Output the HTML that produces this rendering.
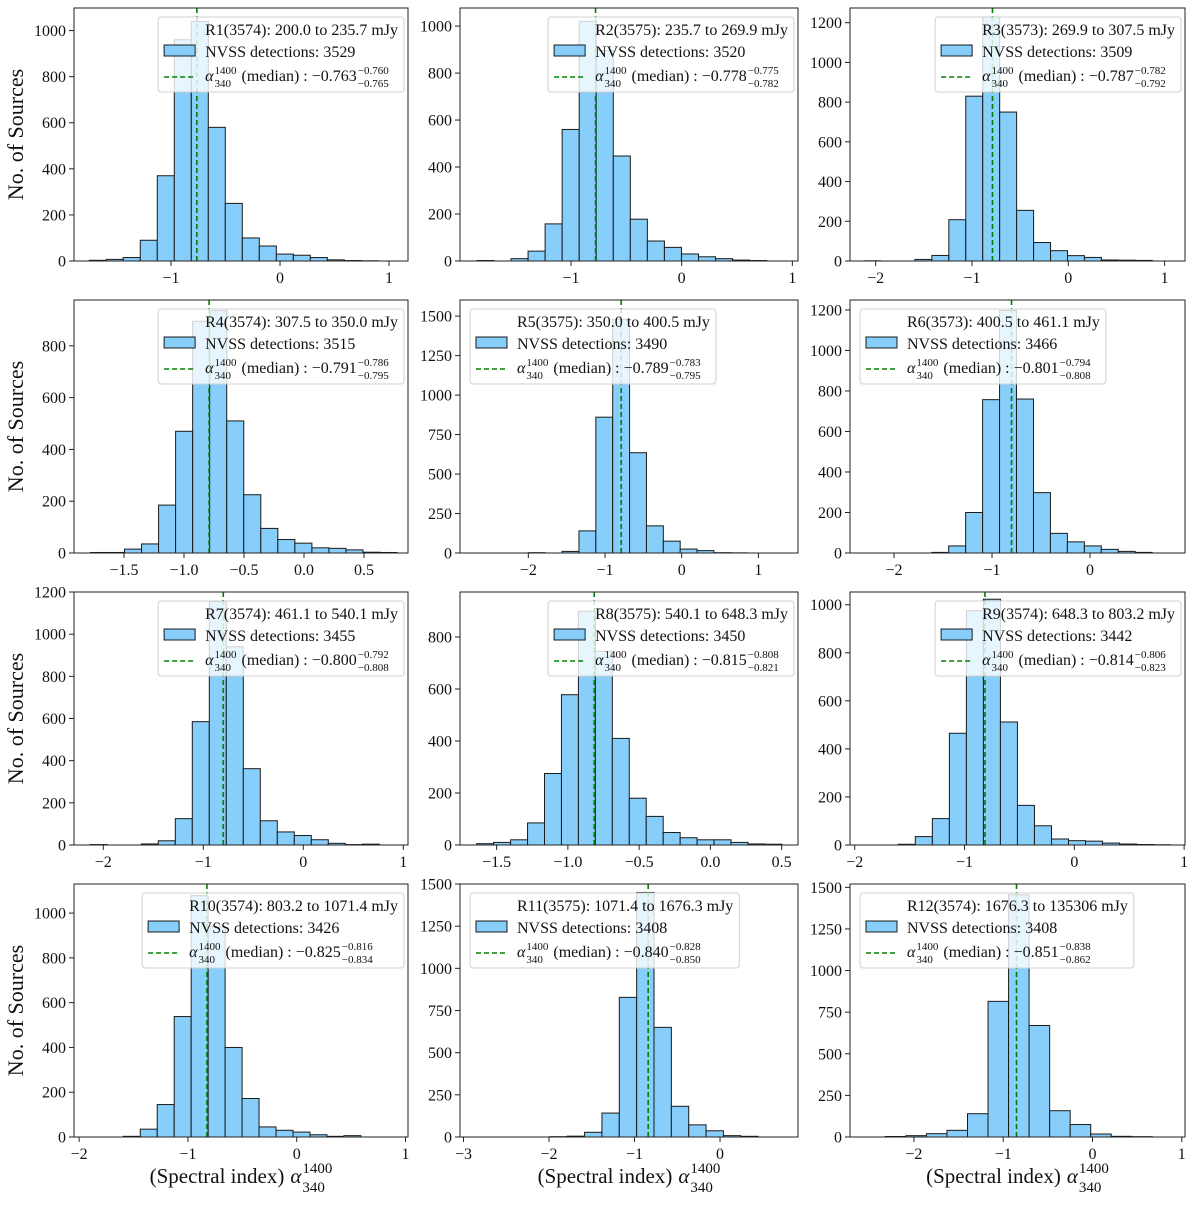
<!DOCTYPE html>
<html><head><meta charset="utf-8"><style>
html,body{margin:0;padding:0;background:#fff;}
svg text{font-family:"Liberation Serif",serif;fill:#111;}
</style></head><body>
<svg id="fig" width="1200" height="1200" viewBox="0 0 1200 1200" xmlns="http://www.w3.org/2000/svg"></svg>
<script>
// ---- data ----
const titles = ["R1(3574): 200.0 to 235.7 mJy","R2(3575): 235.7 to 269.9 mJy","R3(3573): 269.9 to 307.5 mJy","R4(3574): 307.5 to 350.0 mJy","R5(3575): 350.0 to 400.5 mJy","R6(3573): 400.5 to 461.1 mJy","R7(3574): 461.1 to 540.1 mJy","R8(3575): 540.1 to 648.3 mJy","R9(3574): 648.3 to 803.2 mJy","R10(3574): 803.2 to 1071.4 mJy","R11(3575): 1071.4 to 1676.3 mJy","R12(3574): 1676.3 to 135306 mJy"];
const detections = [3529,3520,3509,3515,3490,3466,3455,3450,3442,3426,3408,3408];
const medians = [-0.763,-0.778,-0.787,-0.791,-0.789,-0.801,-0.800,-0.815,-0.814,-0.825,-0.840,-0.851];
const upperErr = ["−0.760","−0.775","−0.782","−0.786","−0.783","−0.794","−0.792","−0.808","−0.806","−0.816","−0.828","−0.838"];
const lowerErr = ["−0.765","−0.782","−0.792","−0.795","−0.795","−0.808","−0.808","−0.821","−0.823","−0.834","−0.850","−0.862"];
const binStart = [-1.75,-1.85,-2.12,-1.78,-2.0,-1.615,-2.13,-1.64,-1.603,-1.594,-1.99,-2.32];
const binWidth = [0.156,0.154,0.176,0.142,0.22,0.173,0.17,0.119,0.155,0.156,0.203,0.23];
const counts1 = [3,7,15,90,370,960,1040,580,250,100,65,30,25,15,5,2,1];
const counts2 = [2,0,10,42,158,560,1020,896,447,178,85,58,30,18,10,4,2];
const counts3 = [1,0,0,8,28,208,830,1228,750,255,93,52,27,18,5,4,3];
const counts4 = [2,2,15,35,185,470,895,936,510,225,95,52,38,20,18,12,3,2];
const counts5 = [2,0,10,140,860,1480,635,172,75,25,15,2,1];
const counts6 = [3,35,200,757,1197,760,298,97,55,35,18,8,3];
const counts7 = [2,0,0,5,20,125,585,1155,940,362,115,62,45,25,8,2,4];
const counts8 = [5,10,20,85,275,578,899,745,410,180,110,48,28,20,20,10,4,3];
const counts9 = [3,35,110,465,975,1023,512,165,80,25,18,16,8,4,2,1];
const counts10 = [3,35,145,538,1078,939,400,172,45,30,22,10,3,6];
const counts11 = [2,5,28,142,828,1450,650,182,72,37,8,4];
const counts12 = [3,8,20,40,140,815,1455,670,158,75,18,4,2];
const allCounts = [counts1,counts2,counts3,counts4,counts5,counts6,counts7,counts8,counts9,counts10,counts11,counts12];
const xMin = [-1.890,-2.003,-2.266,-1.917,-2.891,-2.449,-2.293,-1.757,-2.043,-2.047,-3.041,-2.716];
const xMax = [1.174,1.051,1.212,0.867,1.516,0.969,1.047,0.615,1.008,1.023,0.912,1.036];
const yMax = [1098,1077,1274,977,1602,1249,1200,973,1053,1130,1500,1520];
const xTicks = [[-1,0,1],[-1,0,1],[-2,-1,0,1],[-1.5,-1,-0.5,0,0.5],[-2,-1,0,1],[-2,-1,0],[-2,-1,0,1],[-1.5,-1,-0.5,0,0.5],[-2,-1,0,1],[-2,-1,0,1],[-3,-2,-1,0],[-2,-1,0,1]];
const xTickDecimals = [0,0,0,1,0,0,0,1,0,0,0,0];
const yTickStep = [200,200,200,200,250,200,200,200,200,200,250,250];
const legendLeft = [false,false,false,false,true,true,false,false,false,false,true,true];

// ---- layout ----
const colL = [74,460,850], colR = [408,798,1185];
const rowT = [8,300,592,884], rowB = [261,553,845,1137];
const NS = "http://www.w3.org/2000/svg";
const svg = document.getElementById('fig');
function mk(tag, attrs, parent){const e=document.createElementNS(NS,tag);for(const k in attrs)e.setAttribute(k,attrs[k]);(parent||svg).appendChild(e);return e;}
function fmt(v,d){const s=Math.abs(v).toFixed(d);return (v<0?"−":"")+s;}

for(let p=0;p<12;p++){
  const r=Math.floor(p/3), c=p%3;
  const L=colL[c], R=colR[c], T=rowT[r], B=rowB[r];
  const xs = v => L + (v - xMin[p])/(xMax[p]-xMin[p])*(R-L);
  const ys = v => B - v/yMax[p]*(B-T);
  const g = mk('g',{});
  
  
  const cs = allCounts[p];
  for(let i=0;i<cs.length;i++){
    const x0 = xs(binStart[p]+i*binWidth[p]), x1 = xs(binStart[p]+(i+1)*binWidth[p]);
    const bar = mk('rect',{x:x0,y:ys(cs[i]),width:x1-x0,height:B-ys(cs[i]),fill:'#87CEFA',stroke:'#1a1a1a','stroke-width':1},g);
    
    
  }
  const ml = mk('line',{x1:xs(medians[p]),x2:xs(medians[p]),y1:T,y2:B,stroke:'#008000','stroke-width':1.6,'stroke-dasharray':'5,3'},g);
  
  
  const fr = mk('rect',{x:L,y:T,width:R-L,height:B-T,fill:'none',stroke:'#222','stroke-width':1},g);
  
  
  xTicks[p].forEach(v=>{
    const x=xs(v);
    mk('line',{x1:x,x2:x,y1:B,y2:B+5,stroke:'#222','stroke-width':1},g);
    const t=mk('text',{x:x,y:B+22,'text-anchor':'middle','font-size':16},g);
    t.textContent=fmt(v,xTickDecimals[p]);
    
    
  });
  for(let v=0; v<=yMax[p]; v+=yTickStep[p]){
    const y=ys(v);
    mk('line',{x1:L-5,x2:L,y1:y,y2:y,stroke:'#222','stroke-width':1},g);
    const t=mk('text',{x:L-8,y:y+5.5,'text-anchor':'end','font-size':16},g);
    t.textContent=String(v);
    
    
  }
  const lg = mk('g',{},g);
  
  
  const box = mk('rect',{x:0,y:0,width:100,height:75,rx:3,fill:'rgba(255,255,255,0.8)',stroke:'#d0d0d0','stroke-width':1},lg);
  const t1 = mk('text',{x:47,y:18,'font-size':16},lg); t1.textContent=titles[p];
   
  mk('rect',{x:6,y:28,width:31,height:11,fill:'#87CEFA',stroke:'#1a1a1a','stroke-width':1},lg);
  const t2 = mk('text',{x:47,y:40,'font-size':16},lg); t2.textContent='NVSS detections: '+detections[p];
   
  mk('line',{x1:6,x2:37,y1:60,y2:60,stroke:'#008000','stroke-width':1.6,'stroke-dasharray':'5,3'},lg);
  const a = mk('text',{x:47,y:64,'font-size':16,'font-style':'italic'},lg); a.textContent='α';
  const aw = a.getComputedTextLength();
  const s1 = mk('text',{x:47+aw+1,y:57,'font-size':11},lg); s1.textContent='1400';
  const s2 = mk('text',{x:47+aw+1,y:70,'font-size':11},lg); s2.textContent='340';
  const sw = Math.max(s1.getComputedTextLength(), s2.getComputedTextLength());
  const m = mk('text',{x:47+aw+sw+6,y:64,'font-size':16},lg); m.textContent='(median) : '+fmt(medians[p],3);
   
  const mx = 47+aw+sw+6+m.getComputedTextLength()+1;
  const u = mk('text',{x:mx,y:57,'font-size':11},lg); u.textContent=upperErr[p];
  const lo = mk('text',{x:mx,y:70,'font-size':11},lg); lo.textContent=lowerErr[p];
  const ew = Math.max(u.getComputedTextLength(), lo.getComputedTextLength());
  const w = Math.max(mx+ew, 47+t1.getComputedTextLength(), 47+t2.getComputedTextLength()) + 6;
  box.setAttribute('width', w);
  const lx = legendLeft[p] ? L+10 : R-4-w;
  lg.setAttribute('transform','translate('+lx+','+(T+9)+')');
}
for(let r=0;r<4;r++){
  const cy=(rowT[r]+rowB[r])/2;
  const t=mk('text',{x:0,y:0,'font-size':22,'text-anchor':'middle',transform:'translate(23,'+cy+') rotate(-90)'});
  t.textContent='No. of Sources';
  
  
}
for(let c=0;c<3;c++){
  const cx=(colL[c]+colR[c])/2;
  const t=mk('text',{x:0,y:1183,'font-size':21});
  t.textContent='(Spectral index)';
  const tw=t.getComputedTextLength();
  const a=mk('text',{x:0,y:1183,'font-size':21,'font-style':'italic'}); a.textContent='α';
  const aw=a.getComputedTextLength();
  const s1=mk('text',{x:0,y:1173,'font-size':15}); s1.textContent='1400';
  const s2=mk('text',{x:0,y:1192,'font-size':15}); s2.textContent='340';
  const sw=s1.getComputedTextLength();
  const total=tw+6+aw+1+sw;
  const x0=cx-total/2;
  t.setAttribute('x',x0);
  a.setAttribute('x',x0+tw+6);
  s1.setAttribute('x',x0+tw+6+aw+1);
  s2.setAttribute('x',x0+tw+6+aw+1);
  
  
}
</script>
</body></html>
